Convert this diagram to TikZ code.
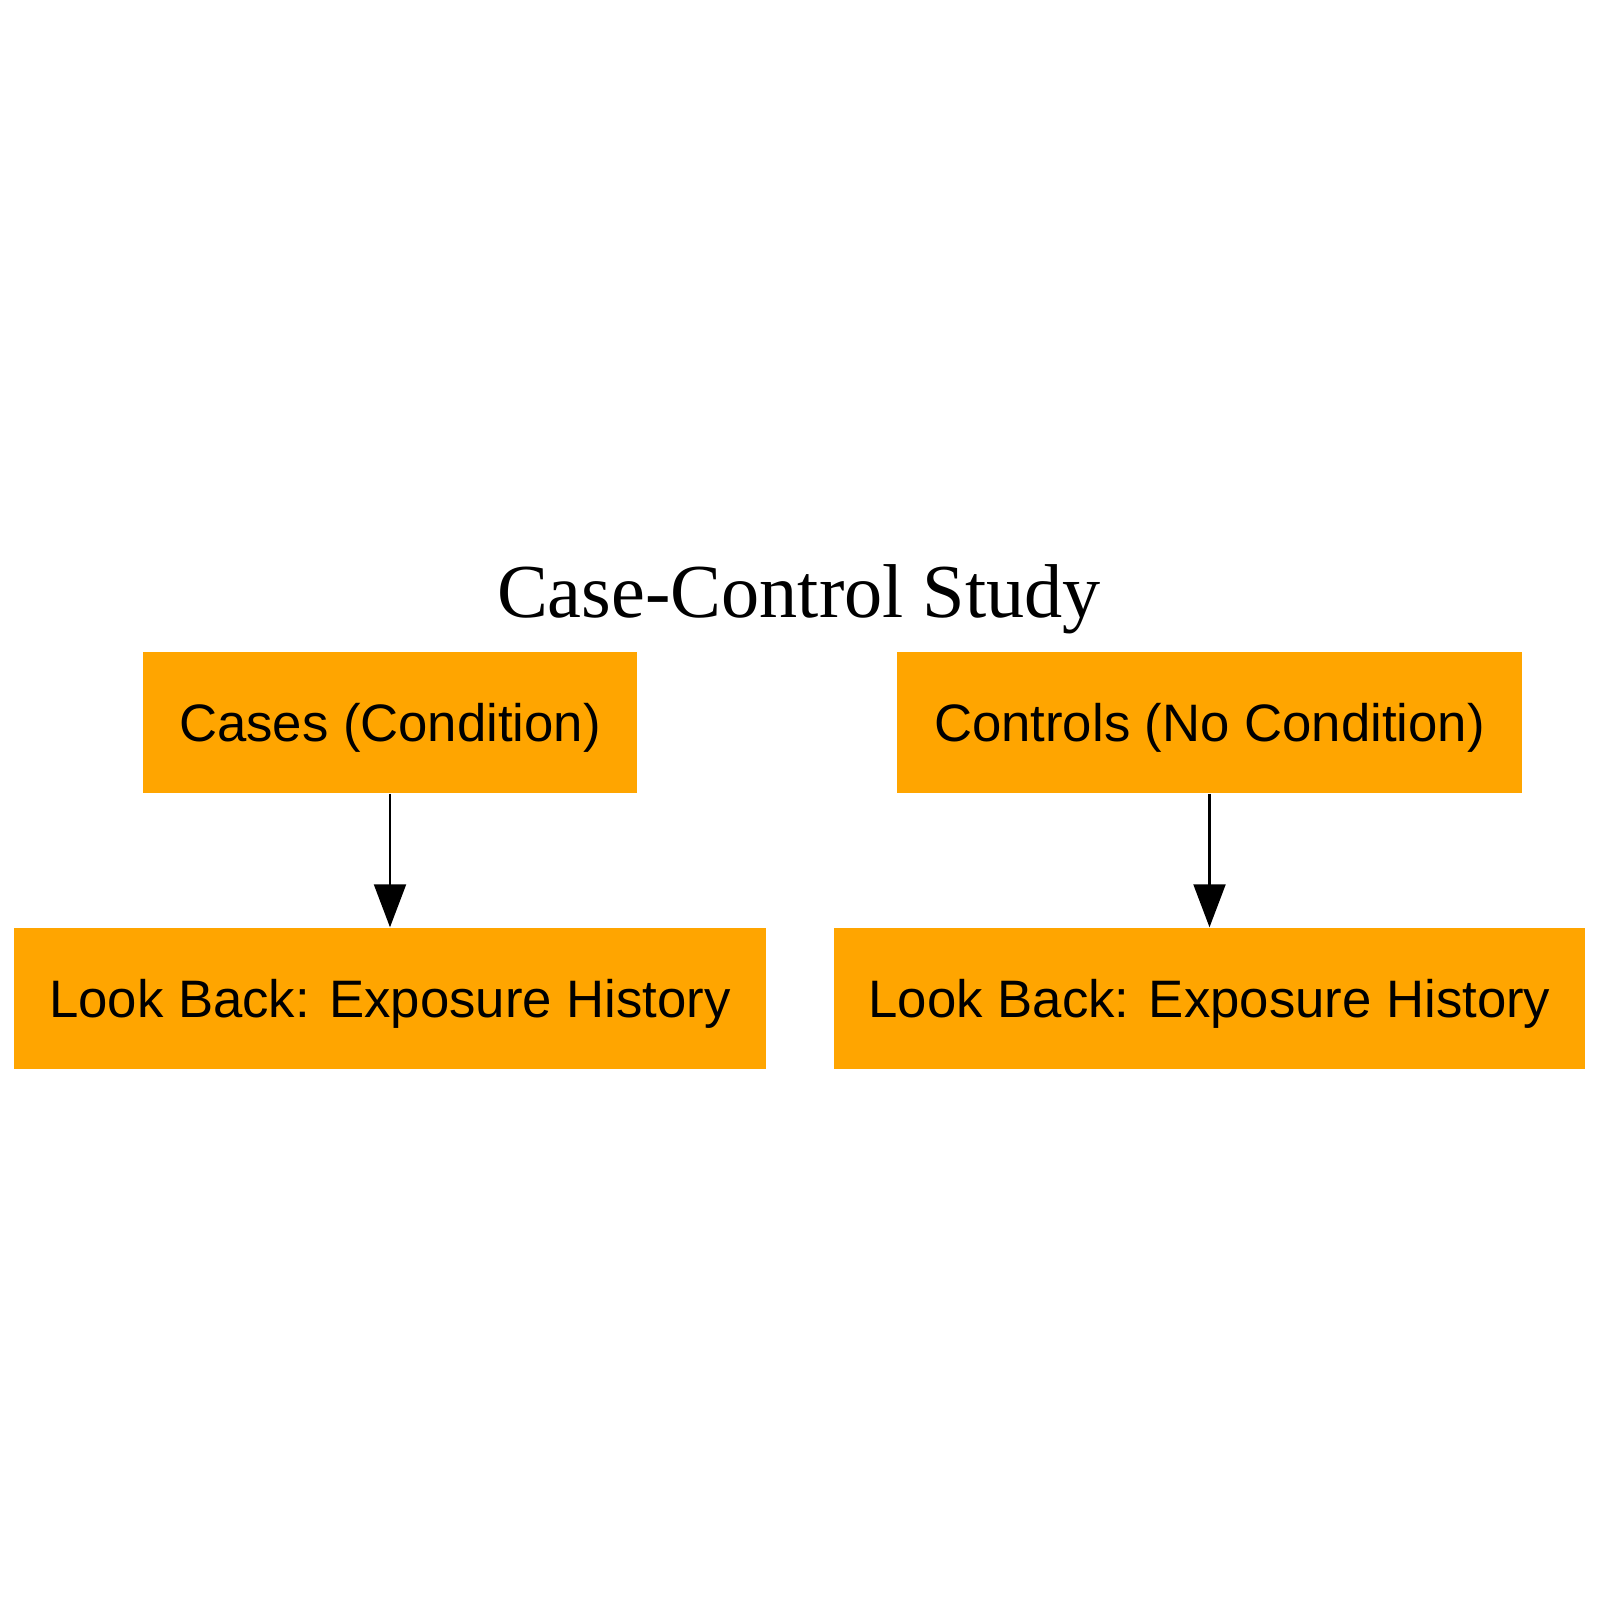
\documentclass[tikz,border=0pt]{standalone}
\usepackage{fontspec}
\setmainfont{Liberation Serif}
\newfontfamily\boxfont{Liberation Sans}
\usepackage{xcolor}
\usetikzlibrary{positioning, arrows.meta}
\definecolor{boxorange}{HTML}{FFA500}
\begin{document}
\begin{tikzpicture}[
    group/.style={rectangle, fill=boxorange, inner sep=0pt, minimum height=1.41cm, text height=0.37cm, text depth=0cm, align=center, font=\boxfont\fontsize{15}{18}\selectfont},
    flow/.style={-{Triangle[length=0.43cm, width=0.32cm]}, line width=0.6pt, black}
]
    \useasboundingbox (0, 0) rectangle (16, -16);
    % Title
    \node[anchor=base, font=\fontsize{21.7}{26}\selectfont] (title) at (7.99, -6.17) {Case-Control Study};
    % Groups
    \node[group, minimum width=4.94cm] (cases) at (3.90, -7.225) {Cases (Condition)};
    \node[group, minimum width=6.25cm] (controls) at (12.095, -7.225) {Controls (No Condition)};
    % Look back
    \node[group, minimum width=7.52cm] (backcases) at (3.90, -9.985) {Look Back: Exposure History};
    \node[group, minimum width=7.51cm] (backcontrols) at (12.095, -9.985) {Look Back: Exposure History};
    \draw[flow] (cases) -- (backcases);
    \draw[flow] (controls) -- (backcontrols);
\end{tikzpicture}
\end{document}
